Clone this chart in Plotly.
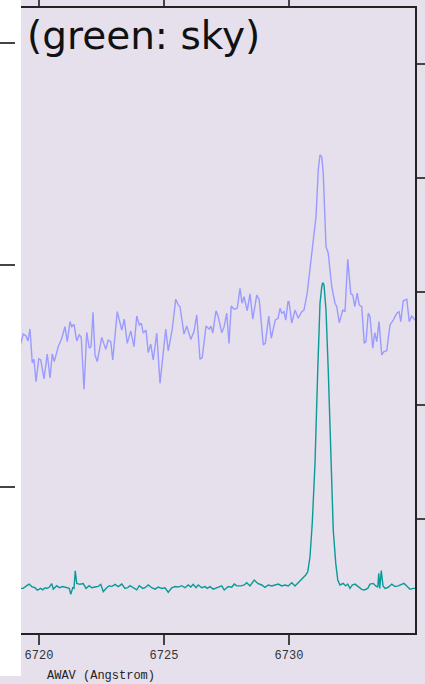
import plotly.graph_objects as go

# Object spectrum (blue), wavelength in Angstrom (air) and flux
obj_wave = [
    6719.24, 6719.37, 6719.48, 6719.56, 6719.64, 6719.73, 6719.80, 6719.88, 6719.99, 6720.07,
    6720.20, 6720.33, 6720.44, 6720.53, 6720.61, 6720.77, 6720.91, 6721.04, 6721.13, 6721.24,
    6721.31, 6721.40, 6721.51, 6721.61, 6721.69, 6721.80, 6721.91, 6722.01, 6722.08, 6722.16,
    6722.24, 6722.33, 6722.51, 6722.67, 6722.77, 6722.87, 6722.95, 6723.13, 6723.31, 6723.41,
    6723.53, 6723.67, 6723.80, 6723.91, 6724.01, 6724.09, 6724.17, 6724.28, 6724.37, 6724.47,
    6724.57, 6724.71, 6724.84, 6725.07, 6725.17, 6725.33, 6725.47, 6725.57, 6725.64, 6725.80,
    6725.91, 6726.07, 6726.20, 6726.31, 6726.44, 6726.53, 6726.68, 6726.81, 6726.88, 6726.95,
    6727.08, 6727.17, 6727.31, 6727.40, 6727.51, 6727.60, 6727.69, 6727.80, 6727.93, 6728.04,
    6728.12, 6728.20, 6728.33, 6728.44, 6728.55, 6728.71, 6728.81, 6728.97, 6729.05, 6729.19,
    6729.29, 6729.45, 6729.56, 6729.64, 6729.71, 6729.80, 6729.87, 6729.96, 6730.00, 6730.11,
    6730.24, 6730.37, 6730.51, 6730.60, 6730.73, 6730.91, 6731.08, 6731.17, 6731.24, 6731.31,
    6731.37, 6731.48, 6731.57, 6731.71, 6731.84, 6731.91, 6732.01, 6732.15, 6732.24, 6732.35,
    6732.47, 6732.55, 6732.63, 6732.73, 6732.81, 6732.91, 6733.01, 6733.08, 6733.17, 6733.24,
    6733.35, 6733.43, 6733.51, 6733.60, 6733.71, 6733.80, 6733.91, 6734.04, 6734.17, 6734.31,
    6734.40, 6734.47, 6734.57, 6734.71, 6734.81, 6734.91, 6735.04,
]
obj_flux = [
    163.2, 168.9, 168.0, 165.8, 171.2, 156.0, 157.5, 147.4, 157.7, 157.2,
    148.7, 159.9, 149.1, 159.9, 156.5, 163.2, 167.0, 172.2, 165.5, 174.5,
    172.2, 173.3, 165.8, 168.5, 167.4, 144.0, 169.7, 162.5, 163.2, 178.7,
    159.5, 156.5, 167.4, 162.0, 166.2, 165.5, 157.2, 179.0, 170.7, 175.6,
    164.7, 170.3, 163.2, 177.0, 173.0, 173.8, 169.3, 170.7, 160.5, 164.4,
    157.2, 169.3, 146.7, 171.1, 161.3, 171.1, 184.6, 182.0, 181.2, 168.9,
    172.5, 166.5, 170.0, 177.5, 157.5, 158.4, 172.5, 171.1, 172.5, 169.3,
    179.4, 176.7, 169.5, 172.0, 178.3, 164.7, 181.5, 180.1, 180.5, 189.5,
    182.8, 185.7, 179.4, 187.0, 175.6, 186.5, 184.3, 164.0, 164.7, 177.0,
    167.0, 175.2, 176.0, 180.5, 178.3, 179.0, 175.2, 183.5, 183.5, 173.8,
    179.7, 176.0, 179.0, 179.7, 187.5, 203.8, 221.8, 242.8, 249.6, 248.8,
    241.3, 208.3, 205.3, 190.2, 182.8, 181.2, 174.0, 179.7, 179.0, 202.6,
    187.0, 186.5, 181.2, 187.3, 182.0, 181.2, 164.7, 165.5, 178.3, 176.7,
    162.5, 169.5, 165.5, 174.5, 159.5, 161.0, 161.4, 173.0, 175.2, 178.3,
    179.0, 174.5, 183.9, 184.6, 174.5, 177.0, 175.2,
]

# Sky spectrum (green)
sky_wave = [
    6719.24, 6719.37, 6719.51, 6719.61, 6719.71, 6719.84, 6719.93, 6720.07, 6720.15, 6720.24,
    6720.31, 6720.41, 6720.51, 6720.57, 6720.71, 6720.81, 6720.95, 6721.11, 6721.21, 6721.27,
    6721.35, 6721.40, 6721.45, 6721.51, 6721.64, 6721.77, 6721.88, 6722.01, 6722.11, 6722.24,
    6722.37, 6722.47, 6722.57, 6722.71, 6722.81, 6722.91, 6723.04, 6723.17, 6723.31, 6723.44,
    6723.55, 6723.64, 6723.77, 6723.91, 6724.01, 6724.15, 6724.24, 6724.37, 6724.51, 6724.64,
    6724.77, 6724.91, 6725.04, 6725.17, 6725.31, 6725.44, 6725.57, 6725.71, 6725.84, 6725.97,
    6726.07, 6726.17, 6726.28, 6726.37, 6726.51, 6726.64, 6726.73, 6726.84, 6726.97, 6727.11,
    6727.17, 6727.31, 6727.41, 6727.57, 6727.71, 6727.81, 6727.91, 6728.08, 6728.21, 6728.31,
    6728.44, 6728.61, 6728.75, 6728.91, 6729.04, 6729.17, 6729.31, 6729.44, 6729.57, 6729.71,
    6729.84, 6729.97, 6730.11, 6730.24, 6730.37, 6730.53, 6730.67, 6730.75, 6730.84, 6730.93,
    6731.04, 6731.15, 6731.24, 6731.31, 6731.35, 6731.40, 6731.48, 6731.57, 6731.68, 6731.77,
    6731.87, 6731.95, 6732.04, 6732.17, 6732.27, 6732.35, 6732.44, 6732.53, 6732.64, 6732.77,
    6732.91, 6733.01, 6733.15, 6733.24, 6733.37, 6733.47, 6733.55, 6733.59, 6733.63, 6733.69,
    6733.76, 6733.84, 6733.97, 6734.11, 6734.24, 6734.37, 6734.51, 6734.60, 6734.71, 6734.84,
    6734.97, 6735.04,
]
sky_flux = [
    0.196, 0.196, 0.208, 0.215, 0.204, 0.199, 0.188, 0.196, 0.190, 0.199,
    0.196, 0.201, 0.217, 0.193, 0.208, 0.199, 0.204, 0.199, 0.196, 0.170,
    0.199, 0.196, 0.273, 0.218, 0.214, 0.217, 0.196, 0.208, 0.199, 0.202,
    0.205, 0.214, 0.182, 0.199, 0.208, 0.204, 0.214, 0.204, 0.215, 0.196,
    0.199, 0.208, 0.199, 0.190, 0.208, 0.196, 0.199, 0.211, 0.199, 0.193,
    0.202, 0.196, 0.199, 0.179, 0.199, 0.204, 0.202, 0.208, 0.199, 0.211,
    0.202, 0.214, 0.199, 0.211, 0.199, 0.204, 0.196, 0.204, 0.193, 0.199,
    0.201, 0.207, 0.189, 0.204, 0.201, 0.215, 0.207, 0.207, 0.211, 0.221,
    0.207, 0.233, 0.218, 0.211, 0.201, 0.211, 0.207, 0.211, 0.215, 0.207,
    0.211, 0.207, 0.221, 0.207, 0.221, 0.236, 0.255, 0.269, 0.335, 0.482,
    0.746, 1.156, 1.449, 1.522, 1.540, 1.530, 1.420, 1.156, 0.746, 0.453,
    0.306, 0.233, 0.211, 0.218, 0.207, 0.215, 0.196, 0.211, 0.215, 0.204,
    0.192, 0.189, 0.196, 0.215, 0.218, 0.207, 0.201, 0.262, 0.196, 0.274,
    0.207, 0.196, 0.201, 0.215, 0.204, 0.207, 0.215, 0.218, 0.207, 0.192,
    0.196, 0.196,
]

wave_ticks = [6720, 6725, 6730]
obj_ticks = [100, 200, 300]
sky_ticks = [0.5, 1.0, 1.5, 2.0, 2.5]

BG = "#e5e0ec"
AXIS = "#222222"
TICK = "#444444"
MONO = "Courier New, Liberation Mono, monospace"

fig = go.Figure()
fig.add_trace(go.Scatter(
    x=obj_wave, y=obj_flux, mode="lines", yaxis="y",
    line=dict(color="#9a9aff", width=1.4), showlegend=False,
))
fig.add_trace(go.Scatter(
    x=sky_wave, y=sky_flux, mode="lines", yaxis="y2",
    line=dict(color="#0a9a98", width=1.4), showlegend=False,
))

fig.update_layout(
    width=425, height=684,
    margin=dict(l=15, r=10, t=8, b=51, pad=0, autoexpand=False),
    paper_bgcolor=BG, plot_bgcolor=BG,
    xaxis=dict(
        domain=[0.015, 1], range=[6719.28, 6735.04],
        tickvals=wave_ticks, ticks="outside", ticklen=10, tickwidth=2, tickcolor=TICK,
        showline=True, linecolor=AXIS, linewidth=1.5, mirror="allticks",
        showgrid=False, zeroline=False,
        tickfont=dict(family=MONO, size=12, color="#333333"),
    ),
    yaxis=dict(
        range=[34.2, 315.8], tickvals=obj_ticks, anchor="free", position=0,
        ticks="outside", ticklen=15, tickwidth=2, tickcolor=TICK,
        showticklabels=False, showline=False, showgrid=False, zeroline=False,
    ),
    yaxis2=dict(
        range=[0, 2.747], tickvals=sky_ticks, overlaying="y", side="right", anchor="x",
        ticks="outside", ticklen=10, tickwidth=2, tickcolor=TICK,
        showticklabels=False, showline=True, linecolor=AXIS, linewidth=1.5,
        showgrid=False, zeroline=False,
    ),
    shapes=[dict(
        type="rect", xref="paper", yref="paper",
        x0=-0.04, x1=0.015, y0=-0.0688, y1=1.02,
        fillcolor="white", line=dict(width=0), layer="below",
    )],
    annotations=[
        dict(text="(green: sky)", xref="paper", yref="paper", x=0.026, y=0.9552,
             xanchor="left", yanchor="middle", showarrow=False,
             font=dict(family="DejaVu Sans", size=39, color="#111111")),
        dict(text="AWAV (Angstrom)", xref="paper", yref="paper", x=0.075, y=-0.0688,
             xanchor="left", yanchor="middle", showarrow=False,
             font=dict(family=MONO, size=12, color="#222222")),
    ],
)

fig.write_html("out.html")
